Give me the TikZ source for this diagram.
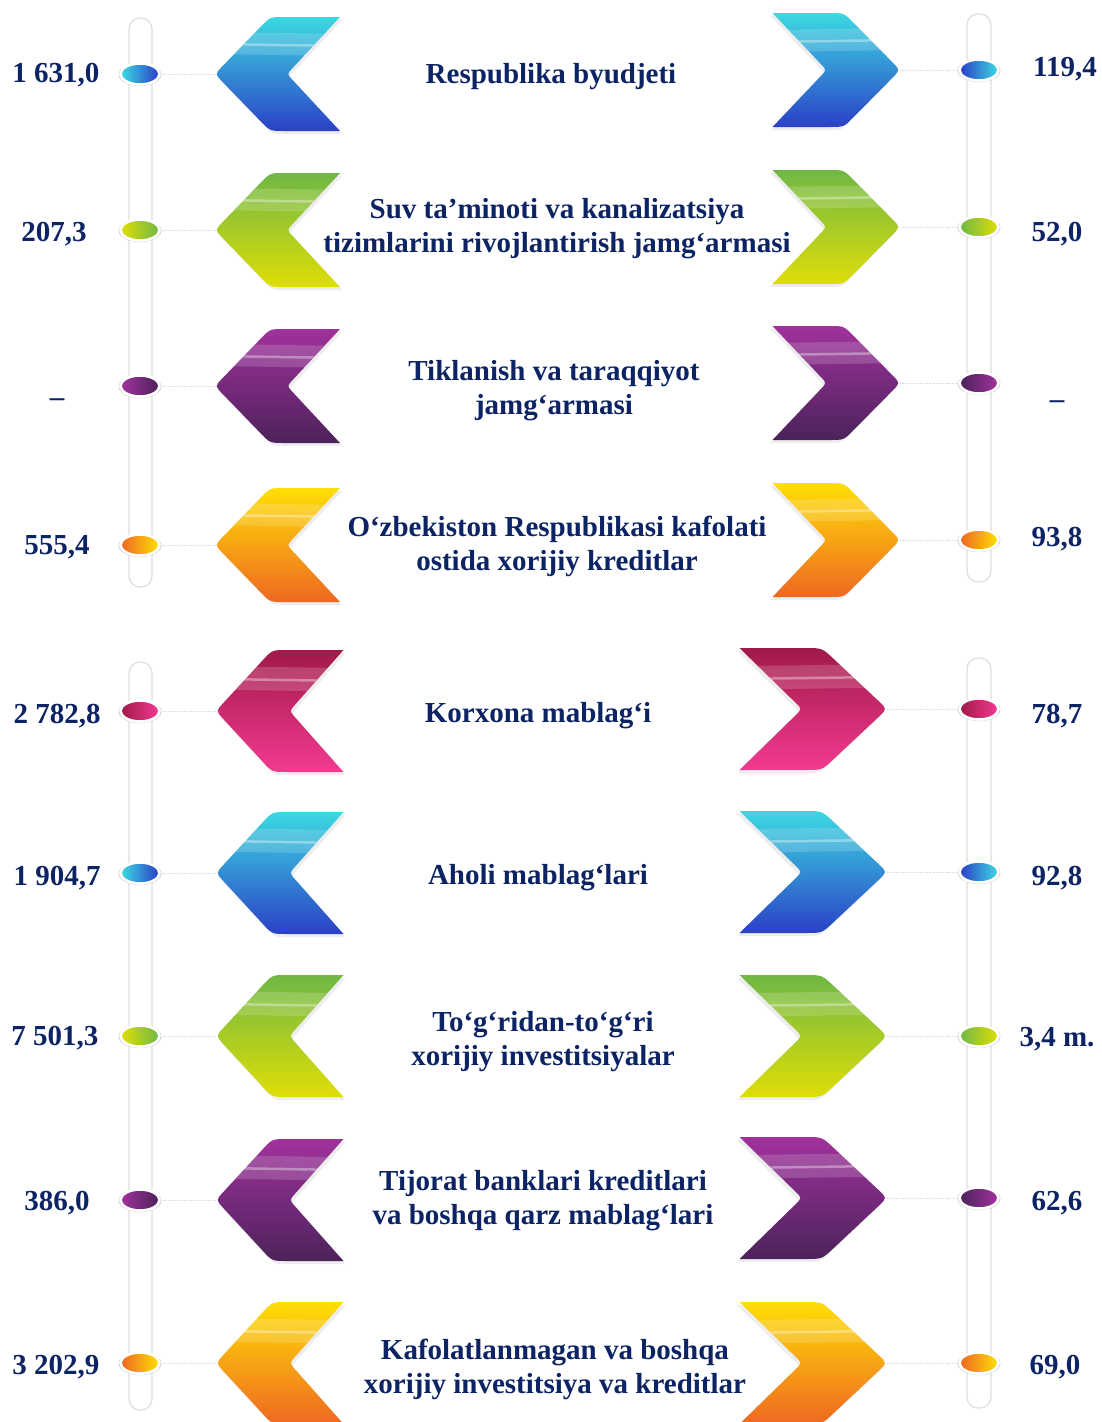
\documentclass[tikz,border=0pt]{standalone}
\usepackage{fontspec}
\setmainfont{Liberation Serif}
\usetikzlibrary{shapes.geometric,shadows}
\definecolor{navy}{RGB}{12,36,100}
\definecolor{blueT}{HTML}{3CDDE2}\definecolor{blueB}{HTML}{2A3CC6}
\definecolor{greenT}{HTML}{6CB746}\definecolor{greenB}{HTML}{E2DF05}
\definecolor{purpT}{HTML}{A2329E}\definecolor{purpB}{HTML}{4A2259}
\definecolor{oranT}{HTML}{FFE205}\definecolor{oranB}{HTML}{EE6522}
\definecolor{pinkT}{HTML}{9E1848}\definecolor{pinkB}{HTML}{F53B92}
\tikzset{
  bar/.style={fill=white, draw=black!13, line width=1.2pt, rounded corners=11pt},
  bead/.style={ellipse, minimum width=39pt, minimum height=21pt, inner sep=0pt,
    draw=white, line width=2.6pt, drop shadow={opacity=.35, shadow xshift=0pt, shadow yshift=-0.5pt, shadow scale=1.1}},
  conn/.style={draw=black!14, line width=0.8pt, densely dotted},
  lbl/.style={font=\fontsize{29}{34}\selectfont\bfseries, text=navy, align=center, inner sep=0pt},
  num/.style={font=\fontsize{29}{34}\selectfont\bfseries, text=navy, inner sep=0pt}
}
% #1 tip x, #2 y, #3 xscale (negative = pointing right), #4 yscale, #5 top colour, #6 bottom colour, #7 name of tip
\newcommand\chev[7]{%
  \begin{scope}[shift={(#1,#2)}, xscale=#3, yscale=#4]
    \fill[black, opacity=.07] (127,-54) -- (71,-54) .. controls (57,-54) .. (47.3,-43.9) -- (8.9,-4.2) .. controls (2,3) .. (8.9,10.2) -- (47.3,49.9) .. controls (57,60) .. (71,60) -- (127,60) -- (79.5,8.9) .. controls (74,3) .. (79.5,-2.9) -- cycle;
    \begin{scope}
      \clip (125,-57) -- (69,-57) .. controls (55,-57) .. (45.3,-46.9) -- (6.9,-7.2) .. controls (0,0) .. (6.9,7.2) -- (45.3,46.9) .. controls (55,57) .. (69,57) -- (125,57) -- (77.5,5.9) .. controls (72,0) .. (77.5,-5.9) -- cycle;
      \shade[top color=#5, bottom color=#6] (-5,-60) rectangle (135,60);
      \fill[white, opacity=.16] (0,-42) -- (130,-40) -- (130,-18) -- (0,-20) -- cycle;
      \draw[white, opacity=.35, line width=2.5pt] (0,-30) -- (130,-28);
    \end{scope}
    \coordinate (#7) at (0,0);
  \end{scope}}
\begin{document}
\begin{tikzpicture}[x=1pt, y=-1pt]
\useasboundingbox (0,0) rectangle (1102,1422);
\fill[white] (0,0) rectangle (1102,1422);
% bars
\draw[bar] (129,18) rectangle (152,587);
\draw[bar] (967,14) rectangle (991,582);
\draw[bar] (129,662) rectangle (152,1410);
\draw[bar] (967,658) rectangle (991,1408);
% chevrons, top group
\chev{215}{74}{1}{1}{blueT}{blueB}{cL1}
\chev{900}{70}{-1.02}{1}{blueT}{blueB}{cR1}
\chev{215}{230}{1}{1}{greenT}{greenB}{cL2}
\chev{900}{227}{-1.02}{1}{greenT}{greenB}{cR2}
\chev{215}{386}{1}{1}{purpT}{purpB}{cL3}
\chev{900}{383}{-1.02}{1}{purpT}{purpB}{cR3}
\chev{215}{545}{1}{1}{oranT}{oranB}{cL4}
\chev{900}{540}{-1.02}{1}{oranT}{oranB}{cR4}
% chevrons, bottom group
\chev{216}{711}{1.02}{1.07}{pinkT}{pinkB}{cL5}
\chev{887}{709}{-1.18}{1.07}{pinkT}{pinkB}{cR5}
\chev{216}{873}{1.02}{1.07}{blueT}{blueB}{cL6}
\chev{887}{872}{-1.18}{1.07}{blueT}{blueB}{cR6}
\chev{216}{1036}{1.02}{1.07}{greenT}{greenB}{cL7}
\chev{887}{1036}{-1.18}{1.07}{greenT}{greenB}{cR7}
\chev{216}{1200}{1.02}{1.07}{purpT}{purpB}{cL8}
\chev{887}{1198}{-1.18}{1.07}{purpT}{purpB}{cR8}
\chev{216}{1363}{1.02}{1.07}{oranT}{oranB}{cL9}
\chev{887}{1363}{-1.18}{1.07}{oranT}{oranB}{cR9}
% beads
\node[bead, left color=blueT, right color=blueB] (bL1) at (140,74) {};
\node[bead, left color=blueB, right color=blueT] (bR1) at (979,70) {};
\node[bead, left color=greenB, right color=greenT] (bL2) at (140,230) {};
\node[bead, left color=greenT, right color=greenB] (bR2) at (979,227) {};
\node[bead, left color=purpT, right color=purpB] (bL3) at (140,386) {};
\node[bead, left color=purpB, right color=purpT] (bR3) at (979,383) {};
\node[bead, left color=oranB, right color=oranT] (bL4) at (140,545) {};
\node[bead, left color=oranB, right color=oranT] (bR4) at (979,540) {};
\node[bead, left color=pinkT, right color=pinkB] (bL5) at (140,711) {};
\node[bead, left color=pinkT, right color=pinkB] (bR5) at (979,709) {};
\node[bead, left color=blueT, right color=blueB] (bL6) at (140,873) {};
\node[bead, left color=blueB, right color=blueT] (bR6) at (979,872) {};
\node[bead, left color=greenB, right color=greenT] (bL7) at (140,1036) {};
\node[bead, left color=greenT, right color=greenB] (bR7) at (979,1036) {};
\node[bead, left color=purpT, right color=purpB] (bL8) at (140,1200) {};
\node[bead, left color=purpB, right color=purpT] (bR8) at (979,1198) {};
\node[bead, left color=oranB, right color=oranT] (bL9) at (140,1363) {};
\node[bead, left color=oranB, right color=oranT] (bR9) at (979,1363) {};
% connectors
\foreach \i in {1,...,9}{
  \draw[conn] (bL\i) -- (cL\i);
  \draw[conn] (bR\i) -- (cR\i);
}
% labels
\node[lbl] (t1) at (551,77) {Respublika byudjeti};
\node[lbl] (t2) at (557,229) {Suv ta’minoti va kanalizatsiya\\tizimlarini rivojlantirish jamg‘armasi};
\node[lbl] (t3) at (554,391) {Tiklanish va taraqqiyot\\jamg‘armasi};
\node[lbl] (t4) at (557,546) {O‘zbekiston Respublikasi kafolati\\ostida xorijiy kreditlar};
\node[lbl] (t5) at (538,716) {Korxona mablag‘i};
\node[lbl] (t6) at (538,878) {Aholi mablag‘lari};
\node[lbl] (t7) at (543,1042) {To‘g‘ridan-to‘g‘ri\\xorijiy investitsiyalar};
\node[lbl] (t8) at (543,1201) {Tijorat banklari kreditlari\\va boshqa qarz mablag‘lari};
\node[lbl] (t9) at (555,1369) {Kafolatlanmagan va boshqa\\xorijiy investitsiya va kreditlar};
% left values
\node[num] (nL1) at (56,75) {1 631,0};
\node[num] (nL2) at (54,234) {207,3};
\node[num] (nL3) at (57,403) {–};
\node[num] (nL4) at (57,547) {555,4};
\node[num] (nL5) at (57,716) {2 782,8};
\node[num] (nL6) at (57,878) {1 904,7};
\node[num] (nL7) at (55,1038) {7 501,3};
\node[num] (nL8) at (57,1203) {386,0};
\node[num] (nL9) at (56,1367) {3 202,9};
% right values
\node[num] (nR1) at (1065,69) {119,4};
\node[num] (nR2) at (1057,234) {52,0};
\node[num] (nR3) at (1057,405) {–};
\node[num] (nR4) at (1057,539) {93,8};
\node[num] (nR5) at (1057,716) {78,7};
\node[num] (nR6) at (1057,878) {92,8};
\node[num] (nR7) at (1057,1039) {3,4 m.};
\node[num] (nR8) at (1057,1203) {62,6};
\node[num] (nR9) at (1055,1367) {69,0};
\end{tikzpicture}
\end{document}
